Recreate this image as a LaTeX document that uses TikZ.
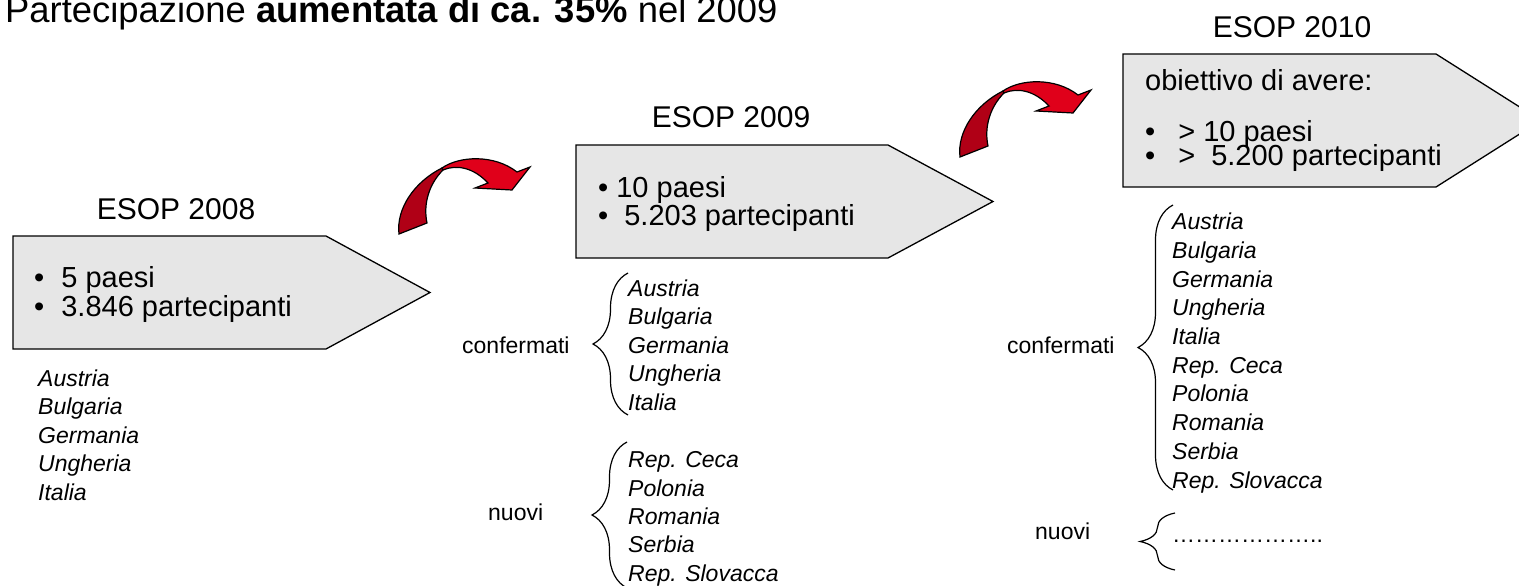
\documentclass[tikz,border=0pt]{standalone}
\usepackage{fontspec}
\setmainfont{Liberation Sans}
\usetikzlibrary{decorations.pathreplacing}
\definecolor{grigio}{RGB}{230,230,230}
\definecolor{rosso}{RGB}{224,0,26}
\definecolor{rossoscuro}{RGB}{176,0,22}
\lineskiplimit=-100pt

\begin{document}
\begin{tikzpicture}[x=1pt,y=-1pt,
    scatola/.style={draw=black,fill=grigio,line width=1.3pt},
    anno/.style={anchor=base,inner sep=0pt,font=\fontsize{30}{32}\selectfont},
    voce/.style={anchor=base west,inner sep=0pt,align=left,font=\fontsize{29}{29}\selectfont},
    paese/.style={anchor=base west,inner sep=0pt,align=left,font=\fontsize{23}{28.5}\selectfont\itshape},
    nota/.style={anchor=base west,inner sep=0pt,font=\fontsize{23}{28}\selectfont},
    graffa/.style={draw,line width=1.2pt,decorate,decoration={brace,amplitude=35pt}},
    pics/curva/.style={code={
        \filldraw[draw=black,line width=1.2pt,fill=rossoscuro] (0,0) .. controls (-3,-25) and (15,-52) .. (43,-66)
            -- (44,-64) .. controls (30,-50) and (24,-30) .. (28,-11) -- cycle;
        \filldraw[draw=black,line width=1.2pt,fill=rosso] (43,-66) .. controls (60,-78) and (95,-80) .. (118,-62)
            -- (131,-67) -- (113,-44) -- (76,-46) -- (89,-51) .. controls (75,-66) and (58,-70) .. (44,-64) -- cycle;
    }}]
    \useasboundingbox (0,0) rectangle (1519,586);
    \clip (0,0) rectangle (1519,586);

    \node[anchor=base west,inner sep=0pt,font=\fontsize{36.4}{40}\selectfont] (titolo) at (5,23)
        {Partecipazione \textbf{aumentata di ca. 35\%} nel 2009};

    \draw[scatola] (13,236) -- (326,236) -- (430,292.5) -- (326,349) -- (13,349) -- cycle;
    \draw[scatola] (576,145) -- (888,145) -- (993,201.5) -- (888,258) -- (576,258) -- cycle;
    \draw[scatola] (1123,54) -- (1436,54) -- (1541,120.5) -- (1436,187) -- (1123,187) -- cycle;

    \pic at (399,234) {curva};
    \pic at (960,157) {curva};

    \node[anno] (e08) at (176,219) {ESOP 2008};
    \node[anno] (e09) at (731,127) {ESOP 2009};
    \node[anno] (e10) at (1292,38) {ESOP 2010};

    \node[voce] (v08) at (34,316) {•\hspace{17pt}5 paesi\\•\hspace{17pt}3.846 partecipanti};
    \node[voce,font=\fontsize{29}{28}\selectfont] (v09) at (598,225) {•\hspace{8pt}10 paesi\\•\hspace{16pt}5.203 partecipanti};
    \node[voce] (obj) at (1145,91) {obiettivo di avere:};
    \node[voce] (v10a) at (1145,141) {•\hspace{23pt}>\hspace{8pt}10 paesi};
    \node[voce] (v10b) at (1145,165) {•\hspace{23pt}>\hspace{16pt}5.200 partecipanti};

    \node[paese] (p08) at (38,500) {Austria\\Bulgaria\\Germania\\Ungheria\\Italia};

    \node[nota] (k09) at (462,353) {confermati};
    \node[paese] (c09) at (628,410) {Austria\\Bulgaria\\Germania\\Ungheria\\Italia};
    \node[nota] (u09) at (488,520) {nuovi};
    \node[paese,font=\fontsize{23}{28.3}\selectfont\itshape] (n09) at (628,581) {Rep. Ceca\\Polonia\\Romania\\Serbia\\Rep. Slovacca};

    \node[nota] (k10) at (1007,353) {confermati};
    \node[paese,font=\fontsize{23}{28.7}\selectfont\itshape] (c10) at (1172,488)
        {Austria\\Bulgaria\\Germania\\Ungheria\\Italia\\Rep. Ceca\\Polonia\\Romania\\Serbia\\Rep. Slovacca};
    \node[nota] (u10) at (1035,539) {nuovi};
    \node[nota] (d10) at (1172,542) {………………..};

    \coordinate (g09a) at (628,415);
    \coordinate (g09b) at (628,273);
    \coordinate (g09c) at (627,588);
    \coordinate (g09d) at (627,442);
    \coordinate (g10a) at (1173,490);
    \coordinate (g10b) at (1173,205);
    \coordinate (g10c) at (1175,570);
    \coordinate (g10d) at (1175,513);

    \draw[graffa] (g09a) -- (g09b);
    \draw[graffa] (g09c) -- (g09d);
    \draw[graffa] (g10a) -- (g10b);
    \draw[graffa] (g10c) -- (g10d);
\end{tikzpicture}
\end{document}
